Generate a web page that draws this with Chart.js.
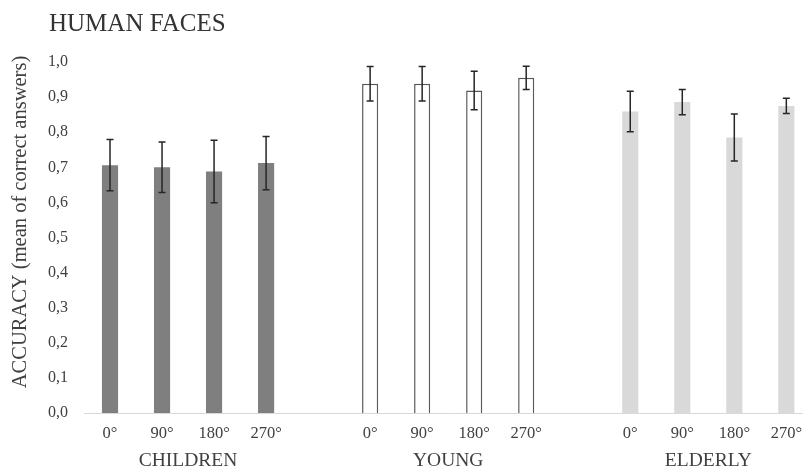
<!DOCTYPE html>
<html>
<head>
<meta charset="utf-8">
<script src="https://cdn.jsdelivr.net/npm/chart.js@4/dist/chart.umd.min.js"></script>
<style>
    html, body { margin: 0; padding: 0; background: #fff; overflow: hidden; }
    #wrap { width: 813px; height: 470px; }
</style>
</head>
<body>
<div id="wrap"><canvas id="faces-chart"></canvas></div>
<script>
const groups = ['CHILDREN', 'YOUNG', 'ELDERLY'];
const angles = ['0°', '90°', '180°', '270°'];
const childrenMeans = [0.706, 0.700, 0.688, 0.712];
const youngMeans = [0.938, 0.938, 0.919, 0.955];
const elderlyMeans = [0.859, 0.886, 0.785, 0.875];
const childrenErr = [0.073, 0.072, 0.089, 0.076];
const youngErr = [0.049, 0.049, 0.055, 0.033];
const elderlyErr = [0.058, 0.036, 0.067, 0.022];
const yTicks = [0, 0.1, 0.2, 0.3, 0.4, 0.5, 0.6, 0.7, 0.8, 0.9, 1.0];

const groupColors = ['#7f7f7f', '#ffffff', '#d9d9d9'];
const groupBorders = [0, 1.5, 0];

// Build one row of 14 slots: 4 bars per group with an empty slot in between
const allMeans = [childrenMeans, youngMeans, elderlyMeans];
const allErr = [childrenErr, youngErr, elderlyErr];
const labels = [], values = [], errors = [], colors = [], borders = [];
allMeans.forEach((means, g) => {
    if (g > 0) {
        labels.push(''); values.push(null); errors.push(null);
        colors.push('#fff'); borders.push(0);
    }
    means.forEach((m, i) => {
        labels.push(angles[i]);
        values.push(m);
        errors.push(allErr[g][i]);
        colors.push(groupColors[g]);
        borders.push(groupBorders[g]);
    });
});

const serif = '"Liberation Serif", "Times New Roman", serif';

// Error bars drawn from the y scale
const errorBars = {
    id: 'errorBars',
    afterDatasetsDraw(chart) {
        const ctx = chart.ctx;
        const y = chart.scales.y;
        const meta = chart.getDatasetMeta(0);
        ctx.save();
        ctx.strokeStyle = '#262626';
        ctx.lineWidth = 1.5;
        meta.data.forEach((bar, i) => {
            if (values[i] === null) return;
            const top = y.getPixelForValue(values[i] + errors[i]);
            const bot = y.getPixelForValue(values[i] - errors[i]);
            ctx.beginPath();
            ctx.moveTo(bar.x, top); ctx.lineTo(bar.x, bot);
            ctx.moveTo(bar.x - 3.5, top); ctx.lineTo(bar.x + 3.5, top);
            ctx.moveTo(bar.x - 3.5, bot); ctx.lineTo(bar.x + 3.5, bot);
            ctx.stroke();
        });
        ctx.restore();
    }
};

// Title, y-axis title and the group labels under the angles
const texts = {
    id: 'texts',
    afterDraw(chart) {
        const ctx = chart.ctx;
        const x = chart.scales.x;
        ctx.save();
        ctx.fillStyle = '#333';
        ctx.textBaseline = 'middle';
        ctx.textAlign = 'left';
        ctx.font = '25px ' + serif;
        ctx.fillText('HUMAN FACES', 49, 24);

        ctx.fillStyle = '#404040';
        ctx.font = '19.5px ' + serif;
        ctx.textAlign = 'center';
        groups.forEach((g, k) => {
            const first = k * 5;
            const cx = (x.getPixelForValue(first) + x.getPixelForValue(first + 3)) / 2;
            ctx.fillText(g, cx, 461);
        });

        ctx.translate(21, 222);
        ctx.rotate(-Math.PI / 2);
        ctx.font = '20.5px ' + serif;
        ctx.fillText('ACCURACY (mean of correct answers)', 0, 0);
        ctx.restore();
    }
};

const ctx = document.getElementById('faces-chart').getContext('2d');
new Chart(ctx, {
    type: 'bar',
    data: {
        labels: labels,
        datasets: [{
            data: values,
            backgroundColor: colors,
            borderColor: '#595959',
            borderWidth: borders,
            categoryPercentage: 1,
            barPercentage: 0.31
        }]
    },
    options: {
        responsive: true,
        maintainAspectRatio: false,
        animation: false,
        layout: { padding: { top: 62, right: 0, bottom: 0, left: 0 } },
        plugins: {
            legend: { display: false },
            tooltip: { enabled: false }
        },
        scales: {
            x: {
                grid: { display: false, drawTicks: false },
                border: { display: true, color: '#d9d9d9', width: 1 },
                ticks: {
                    autoSkip: false,
                    maxRotation: 0,
                    padding: 11,
                    color: '#404040',
                    font: { family: serif, size: 16.5 }
                },
                afterFit(scale) { scale.height = 57; }
            },
            y: {
                min: 0,
                max: 1,
                afterBuildTicks(scale) { scale.ticks = yTicks.map(v => ({ value: v })); },
                grid: { display: false, drawTicks: false },
                border: { display: false },
                ticks: {
                    padding: 16,
                    color: '#404040',
                    font: { family: serif, size: 16 },
                    callback: v => v.toFixed(1).replace('.', ',')
                },
                afterFit(scale) { scale.width = 84; }
            }
        }
    },
    plugins: [errorBars, texts]
});
</script>
</body>
</html>
